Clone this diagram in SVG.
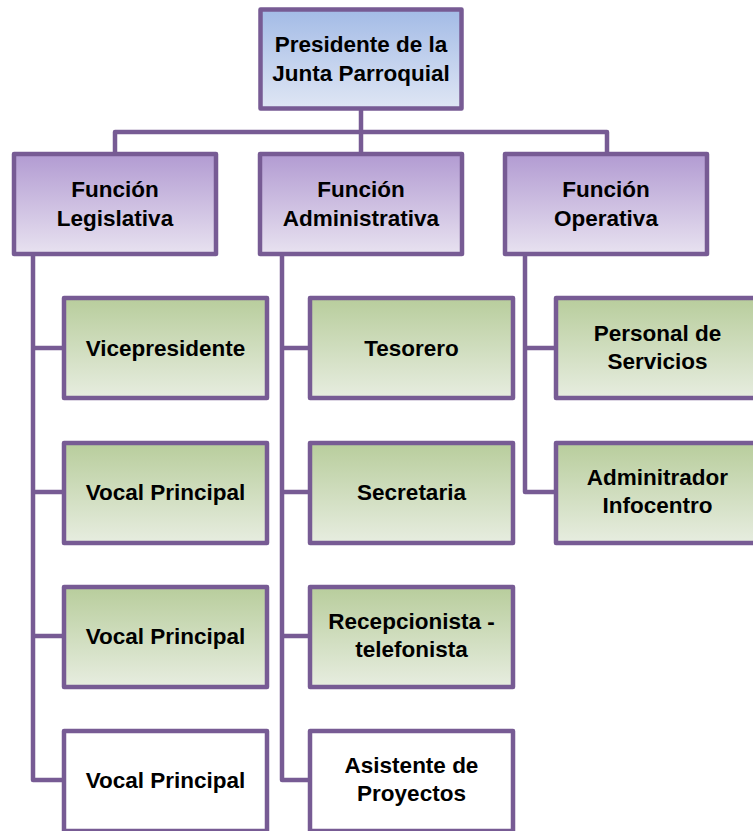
<svg xmlns="http://www.w3.org/2000/svg" width="753" height="831" viewBox="0 0 753 831">
<defs>
<linearGradient id="gBlue" x1="0" y1="0" x2="0" y2="1">
<stop offset="0" stop-color="#A3BBE6"/><stop offset="1" stop-color="#DFE6F4"/>
</linearGradient>
<linearGradient id="gPurple" x1="0" y1="0" x2="0" y2="1">
<stop offset="0" stop-color="#B29BD2"/><stop offset="1" stop-color="#E8E2F0"/>
</linearGradient>
<linearGradient id="gGreen" x1="0" y1="0" x2="0" y2="1">
<stop offset="0" stop-color="#B8CD9C"/><stop offset="1" stop-color="#E7EDE0"/>
</linearGradient>
<style>
.box{stroke:#775B94;stroke-width:4.5;stroke-linejoin:round}
.blue{fill:url(#gBlue)}
.purple{fill:url(#gPurple)}
.green{fill:url(#gGreen)}
.white{fill:#FFFFFF}
.conn{fill:none;stroke:#775B94;stroke-width:4.5;stroke-linejoin:round;stroke-linecap:butt}
text{font-family:"Liberation Sans",Arial,sans-serif;font-weight:bold;font-size:22.5px;fill:#000;text-anchor:middle}
</style>
</defs>
<rect width="753" height="831" fill="#FFFFFF"/>
<g id="connectors">
<path class="conn" d="M361,108 V132 M115,152 V132 H607 V152 M361,132 V152"/>
<path class="conn" d="M33,256 V780 H64 M33,348 H64 M33,492 H64 M33,636 H64"/>
<path class="conn" d="M282,256 V780 H310 M282,348 H310 M282,492 H310 M282,636 H310"/>
<path class="conn" d="M525,256 V492 H556 M525,348 H556"/>
</g>
<g id="presidente">
<rect class="box blue" x="260.5" y="9.5" width="201" height="99"/>
<text x="361" y="52">Presidente de la</text>
<text x="361" y="81">Junta Parroquial</text>
</g>
<g id="f-legislativa">
<rect class="box purple" x="14" y="154" width="202" height="100"/>
<text x="115" y="197">Función</text>
<text x="115" y="226">Legislativa</text>
</g>
<g id="f-administrativa">
<rect class="box purple" x="260" y="154" width="202" height="100"/>
<text x="361" y="197">Función</text>
<text x="361" y="226">Administrativa</text>
</g>
<g id="f-operativa">
<rect class="box purple" x="505" y="154" width="202" height="100"/>
<text x="606" y="197">Función</text>
<text x="606" y="226">Operativa</text>
</g>
<g id="vicepresidente">
<rect class="box green" x="64" y="298" width="203" height="100"/>
<text x="165.5" y="356">Vicepresidente</text>
</g>
<g id="vocal1">
<rect class="box green" x="64" y="443" width="203" height="100"/>
<text x="165.5" y="500">Vocal Principal</text>
</g>
<g id="vocal2">
<rect class="box green" x="64" y="587" width="203" height="100"/>
<text x="165.5" y="644">Vocal Principal</text>
</g>
<g id="vocal3">
<rect class="box white" x="64" y="731" width="203" height="100"/>
<text x="165.5" y="788">Vocal Principal</text>
</g>
<g id="tesorero">
<rect class="box green" x="310" y="298" width="203" height="100"/>
<text x="411.5" y="356">Tesorero</text>
</g>
<g id="secretaria">
<rect class="box green" x="310" y="443" width="203" height="100"/>
<text x="411.5" y="500">Secretaria</text>
</g>
<g id="recepcionista">
<rect class="box green" x="310" y="587" width="203" height="100"/>
<text x="411.5" y="629">Recepcionista -</text>
<text x="411.5" y="657">telefonista</text>
</g>
<g id="asistente">
<rect class="box white" x="310" y="731" width="203" height="100"/>
<text x="411.5" y="773">Asistente de</text>
<text x="411.5" y="801">Proyectos</text>
</g>
<g id="personal">
<rect class="box green" x="556" y="298" width="203" height="100"/>
<text x="657.5" y="341">Personal de</text>
<text x="657.5" y="369">Servicios</text>
</g>
<g id="adminitrador">
<rect class="box green" x="556" y="443" width="203" height="100"/>
<text x="657.5" y="485">Adminitrador</text>
<text x="657.5" y="513">Infocentro</text>
</g>
</svg>
